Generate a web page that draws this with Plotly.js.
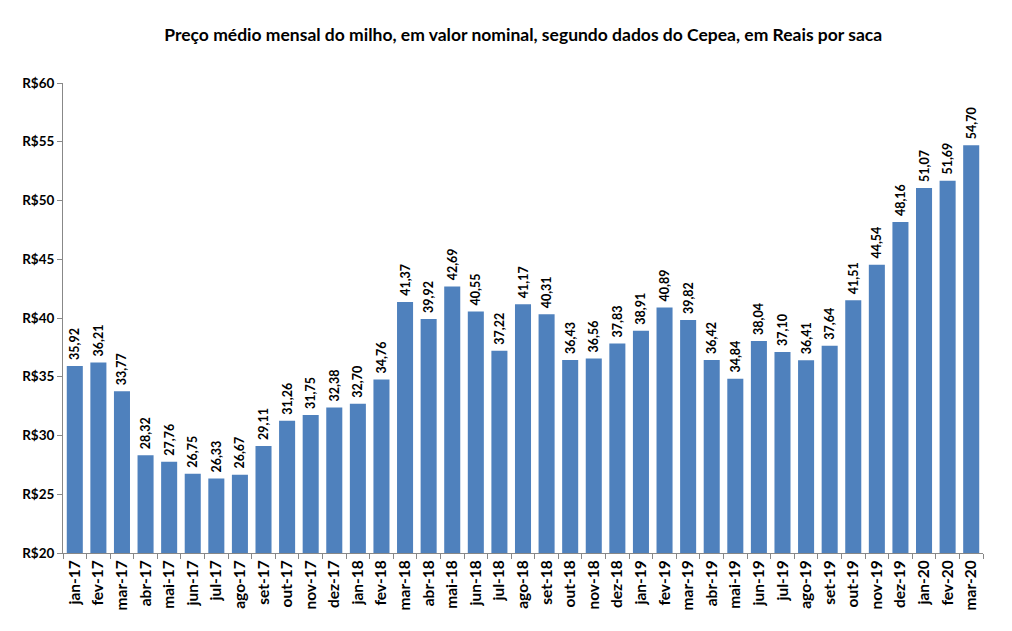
<!DOCTYPE html>
<html>
<head>
<meta charset="utf-8">
<script src="https://cdn.plot.ly/plotly-3.0.1.min.js"></script>
<style>
  html, body { margin: 0; padding: 0; background: #fff; }
  #chart { width: 1012px; height: 631px; }
</style>
</head>
<body>
<div id="chart"></div>
<script>
// Monthly average corn price (nominal, R$ per sack), Cepea data
const months = [
  'jan-17','fev-17','mar-17','abr-17','mai-17','jun-17','jul-17','ago-17','set-17','out-17','nov-17','dez-17',
  'jan-18','fev-18','mar-18','abr-18','mai-18','jun-18','jul-18','ago-18','set-18','out-18','nov-18','dez-18',
  'jan-19','fev-19','mar-19','abr-19','mai-19','jun-19','jul-19','ago-19','set-19','out-19','nov-19','dez-19',
  'jan-20','fev-20','mar-20'
];
const prices = [
  35.92, 36.21, 33.77, 28.32, 27.76, 26.75, 26.33, 26.67, 29.11, 31.26, 31.75, 32.38,
  32.70, 34.76, 41.37, 39.92, 42.69, 40.55, 37.22, 41.17, 40.31, 36.43, 36.56, 37.83,
  38.91, 40.89, 39.82, 36.42, 34.84, 38.04, 37.10, 36.41, 37.64, 41.51, 44.54, 48.16,
  51.07, 51.69, 54.70
];
const yTicks = [20, 25, 30, 35, 40, 45, 50, 55, 60];

const fontFamily = 'Lato, "Open Sans", "Liberation Sans", sans-serif';
// value labels use a decimal comma; the leading space lifts them a little off the bar
const labels = prices.map(v => '\u00a0' + v.toFixed(2).replace('.', ','));

const trace = {
  type: 'bar',
  x: months,
  y: prices,
  text: labels,
  textposition: 'outside',
  textangle: -90,
  cliponaxis: false,
  constraintext: 'none',
  textfont: { family: fontFamily, size: 12.5, color: '#000', weight: 'bold' },
  marker: { color: '#4F81BD', line: { width: 0 } },
  hoverinfo: 'x+y'
};

const layout = {
  width: 1012,
  height: 631,
  margin: { l: 63, r: 29, t: 83, b: 78 },
  paper_bgcolor: '#fff',
  plot_bgcolor: '#fff',
  bargap: 0.32,
  showlegend: false,
  title: {
    text: 'Preço médio mensal do milho, em valor nominal, segundo dados do Cepea, em Reais por saca',
    font: { family: fontFamily, size: 17.5, color: '#000', weight: 'bold' },
    x: 0.517, xanchor: 'center',
    y: 0.945, yanchor: 'middle'
  },
  xaxis: {
    type: 'category',
    tickangle: -90,
    tickfont: { family: fontFamily, size: 15.5, color: '#000', weight: 'bold' },
    showline: true, linecolor: '#888', linewidth: 1,
    ticks: 'outside', tickson: 'boundaries', ticklen: 5, tickcolor: '#888',
    showgrid: false, zeroline: false, fixedrange: true
  },
  yaxis: {
    range: [20, 60],
    tickvals: yTicks,
    ticktext: yTicks.map(v => 'R$' + v),
    tickfont: { family: fontFamily, size: 13.5, color: '#000', weight: 'bold' },
    showline: true, linecolor: '#888', linewidth: 1,
    ticks: 'outside', ticklen: 5, tickcolor: '#888',
    showgrid: false, zeroline: false, fixedrange: true
  }
};

Plotly.newPlot('chart', [trace], layout, { displayModeBar: false, staticPlot: true });
</script>
</body>
</html>
